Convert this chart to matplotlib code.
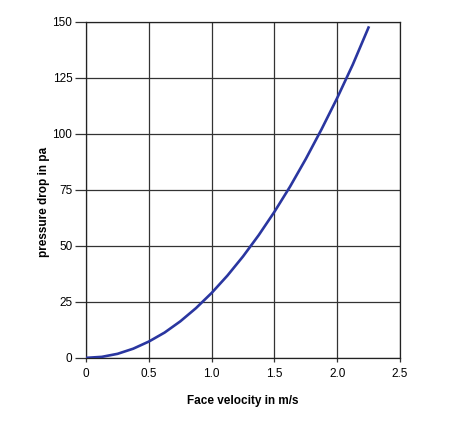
import matplotlib.pyplot as plt

# face velocity (m/s) and pressure drop (Pa)
velocity = [0, 0.125, 0.25, 0.375, 0.5, 0.625, 0.75, 0.875, 1.0, 1.125, 1.25,
            1.375, 1.5, 1.625, 1.75, 1.875, 2.0, 2.125, 2.25]
pressure = [0, 0.45, 1.8, 4.1, 7.3, 11.3, 16.3, 22.2, 29, 36.7, 45.3,
            54.8, 65.2, 76.5, 88.8, 102, 116, 131, 147.5]

x_ticks = [0, 0.5, 1.0, 1.5, 2.0, 2.5]
x_labels = ['0', '0.5', '1.0', '1.5', '2.0', '2.5']
y_ticks = [0, 25, 50, 75, 100, 125, 150]

plt.rcParams['font.family'] = ['Liberation Sans', 'DejaVu Sans']

fig = plt.figure(figsize=(4.71, 4.22), dpi=100)
ax = fig.add_axes([0.183, 0.152, 0.666, 0.796])

ax.plot(velocity, pressure, color='#2a36a0', linewidth=1.9, zorder=3,
        solid_joinstyle='round')

ax.set_xlim(0, 2.5)
ax.set_ylim(0, 150)
ax.set_xticks(x_ticks)
ax.set_xticklabels(x_labels)
ax.set_yticks(y_ticks)
ax.grid(True, color='#333333', linewidth=0.9)
for s in ax.spines.values():
    s.set_color('#222222')
    s.set_linewidth(0.9)
ax.tick_params(axis='y', length=8, width=0.9, color='#333333', labelsize=8.5, pad=2)
ax.tick_params(axis='x', length=3, width=0.9, color='#333333', labelsize=8.5, pad=4)

ax.set_xlabel('Face velocity in m/s', fontsize=8.5, fontweight='bold', labelpad=11)
ax.set_ylabel('pressure drop in pa', fontsize=8.5, fontweight='bold')
ax.yaxis.set_label_coords(-0.115, 0.464)

plt.savefig('out.png', dpi=100)
